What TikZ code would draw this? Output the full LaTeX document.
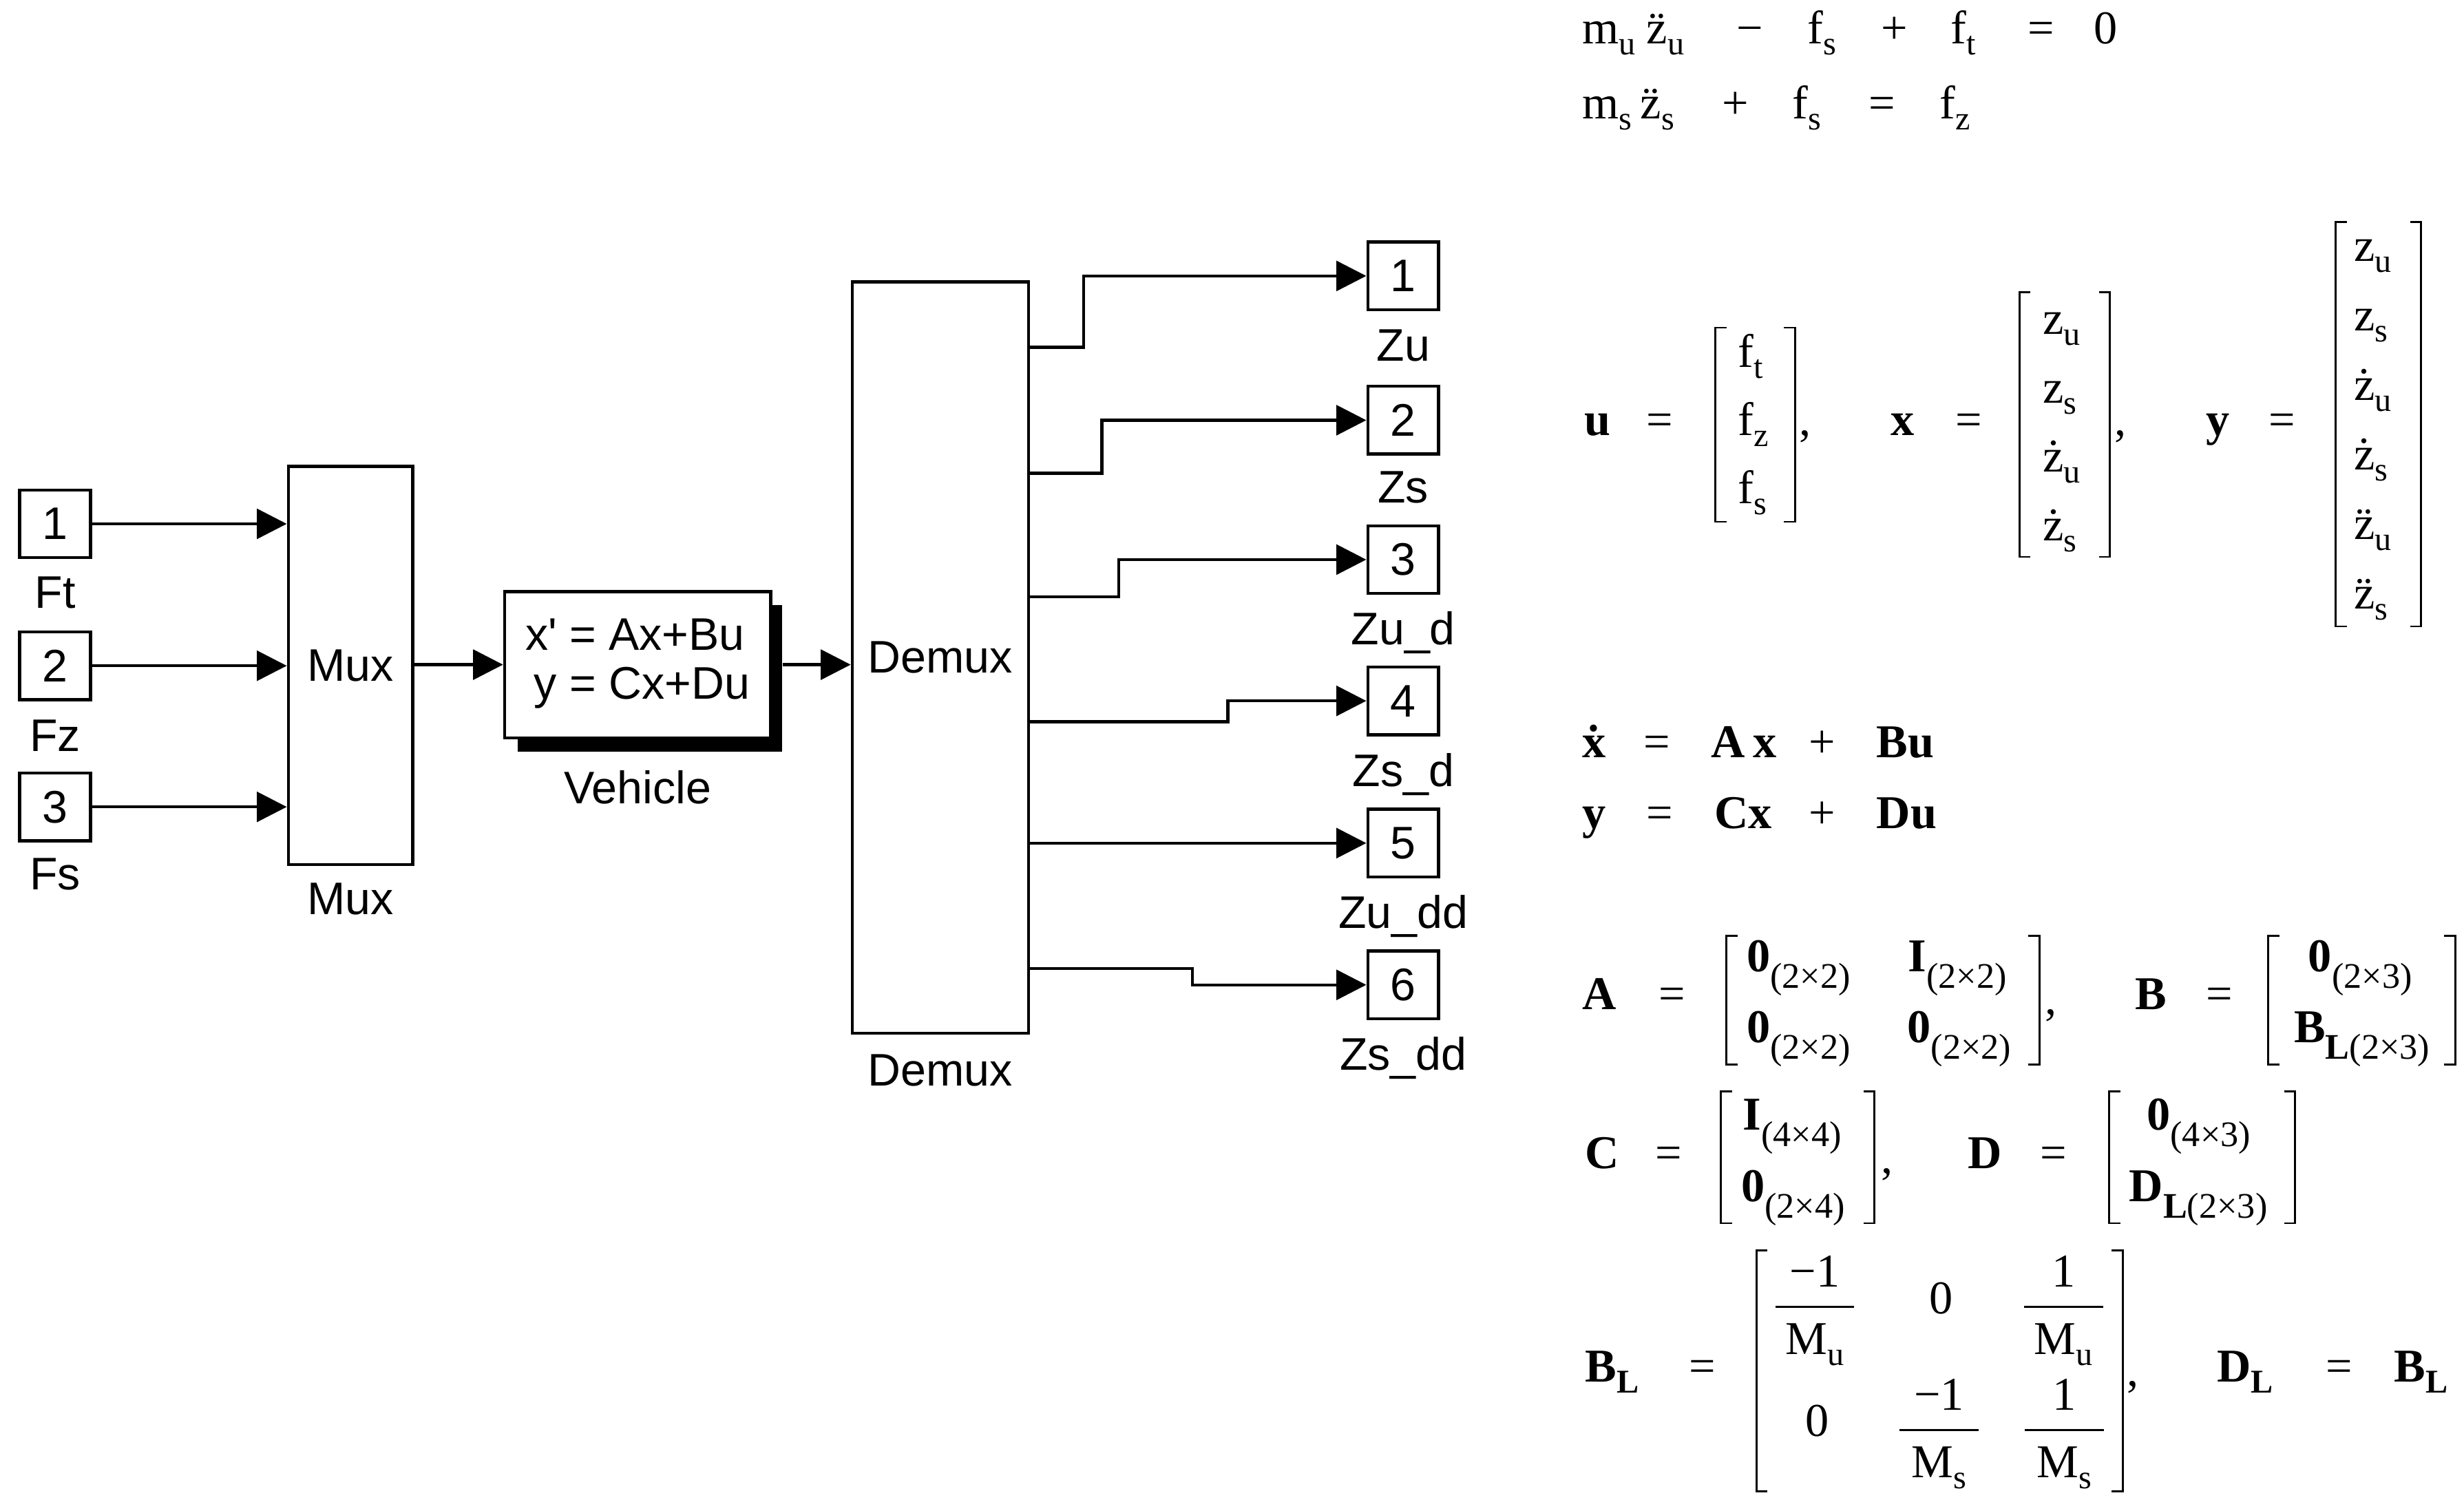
\documentclass[tikz,border=0pt]{standalone}
\usepackage{fontspec}
\setmainfont{Liberation Serif}
\newfontfamily\simfont{Liberation Sans}
\usetikzlibrary{arrows.meta}
\newcommand\simf{\simfont\fontsize{16.5}{17.8}\selectfont}
\newcommand\eqf{\fontsize{17}{20}\selectfont}
\newcommand\sbl[1]{\raisebox{-4pt}{\fontsize{12}{12}\selectfont #1}}
\newcommand\sbd[1]{\raisebox{-6pt}{\fontsize{13}{13}\selectfont #1}}
\newcommand\dt[1]{{\accent"02D9 #1}}
\newcommand\ddt[1]{{\accent"00A8 #1}}
\newcommand\brk[4]{%
  \draw[brkline] (#1+7,#3) -- (#1,#3) -- (#1,#4) -- (#1+7,#4);
  \draw[brkline] (#2-7,#3) -- (#2,#3) -- (#2,#4) -- (#2-7,#4);}
\newcommand\fr[5]{%
  \node[eqc] (#1n) at (#2,#3-12.5) {#4};
  \node[eqc] (#1d) at (#2,#3+30) {#5};
  \draw[brkline] (#2-25,#3) -- (#2+25,#3);}
\begin{document}
\begin{tikzpicture}[x=0.02cm, y=-0.02cm,
  port/.style={draw, line width=1.1pt, minimum width=0.9cm, minimum height=0.86cm, inner sep=0pt, font=\simf},
  blk/.style={draw, line width=1.1pt, fill=white, inner sep=0pt, font=\simf},
  lbl/.style={anchor=base, inner sep=0pt, font=\simf},
  sig/.style={line width=1.1pt, -{Triangle[length=0.38cm, width=0.38cm]}},
  eq/.style={anchor=base west, inner sep=0pt, font=\eqf},
  eqc/.style={anchor=base, inner sep=0pt, font=\eqf},
  brkline/.style={line width=0.7pt}]
\useasboundingbox (0,0) rectangle (1564.2,953.6);

% ---------------- Simulink diagram ----------------
\node[port] (in1) at (35,332.6) {1};
\node[port] (in2) at (35,422.7) {2};
\node[port] (in3) at (35,512.3) {3};
\node[lbl] (lin1) at (35,386.3) {Ft};
\node[lbl] (lin2) at (35,477.2) {Fz};
\node[lbl] (lin3) at (35,565.1) {Fs};

\node[blk, minimum width=1.58cm, minimum height=5.06cm] (mux) at (222.5,422.5) {Mux};
\node[lbl] (lmux) at (222.5,580.7) {Mux};

\node[fill=black, inner sep=0pt, minimum width=3.356cm, minimum height=1.858cm] (vehsh) at (412.7,430.75) {};
\node[blk, minimum width=3.378cm, minimum height=1.856cm] (veh) at (404.75,422)
  {\begin{tabular}{@{}r@{}l@{}}x\textquotesingle & \ = Ax+Bu\\ y & \ = Cx+Du\end{tabular}};
\node[lbl] (lveh) at (404.75,510.4) {Vehicle};

\node[blk, minimum width=2.24cm, minimum height=9.54cm] (demux) at (597,417.5) {Demux};
\node[lbl] (ldemux) at (597,689.4) {Demux};

\node[port] (o1) at (890.8,175.2) {1};
\node[port] (o2) at (890.8,266.8) {2};
\node[port] (o3) at (890.8,355.3) {3};
\node[port] (o4) at (890.8,445) {4};
\node[port] (o5) at (890.8,535.3) {5};
\node[port] (o6) at (890.8,625.3) {6};
\node[lbl] (lo1) at (890.8,229.1) {Zu};
\node[lbl] (lo2) at (890.8,319.2) {Zs};
\node[lbl] (lo3) at (890.8,409.3) {Zu\_d};
\node[lbl] (lo4) at (890.8,499.3) {Zs\_d};
\node[lbl] (lo5) at (890.8,589.4) {Zu\_dd};
\node[lbl] (lo6) at (890.8,679.5) {Zs\_dd};

\draw[sig] (in1) -- (mux.west |- in1);
\draw[sig] (in2) -- (mux.west |- in2);
\draw[sig] (in3) -- (mux.west |- in3);
\draw[sig] (mux.east |- veh) -- (veh);
\draw[sig] (vehsh.east |- veh) -- (demux.west |- veh);

\draw[sig] (demux.east |- 0,220.5) -| (o1 -| 687.8,0) -- (o1);
\draw[sig] (demux.east |- 0,300.4) -| (o2 -| 699.5,0) -- (o2);
\draw[sig] (demux.east |- 0,378.8) -| (o3 -| 710.2,0) -- (o3);
\draw[sig] (demux.east |- 0,458.3) -| (o4 -| 779.5,0) -- (o4);
\draw[sig] (demux.east |- o5) -- (o5);
\draw[sig] (demux.east |- 0,615) -| (o6 -| 757,0) -- (o6);

% ---------------- Equations ----------------
\node[eq] (e1a) at (1004,27.9) {m\sbl{u}};
\node[eq] (e1b) at (1045,27.9) {\ddt{z}\sbl{u}};
\node[eq] (e1c) at (1102,27.9) {−};
\node[eq] (e1d) at (1147,27.9) {f\sbl{s}};
\node[eq] (e1e) at (1194,27.9) {+};
\node[eq] (e1f) at (1238,27.9) {f\sbl{t}};
\node[eq] (e1g) at (1287,27.9) {=};
\node[eq] (e1h) at (1329,27.9) {0};

\node[eq] (e2a) at (1004,75.4) {m\sbl{s}};
\node[eq] (e2b) at (1041,75.4) {\ddt{z}\sbl{s}};
\node[eq] (e2c) at (1093,75.4) {+};
\node[eq] (e2d) at (1137.5,75.4) {f\sbl{s}};
\node[eq] (e2e) at (1186,75.4) {=};
\node[eq] (e2f) at (1231,75.4) {f\sbl{z}};

% u, x, y vectors
\node[eq] (uu) at (1005.5,276.3) {\textbf{u}};
\node[eq] (ueq) at (1045,276.3) {=};
\brk{1089}{1139.5}{208}{331.3}
\node[eq] (u1) at (1103,233) {f\sbl{t}};
\node[eq] (u2) at (1103,276.3) {f\sbl{z}};
\node[eq] (u3) at (1103,319.6) {f\sbl{s}};
\node[eq] (ucm) at (1142,276.3) {,};

\node[eq] (xx) at (1200,276.3) {\textbf{x}};
\node[eq] (xeq) at (1241,276.3) {=};
\brk{1282}{1339.4}{185.6}{353.6}
\node[eq] (x1) at (1296.5,212) {z\sbl{u}};
\node[eq] (x2) at (1296.5,255.7) {z\sbl{s}};
\node[eq] (x3) at (1296.5,299.4) {\dt{z}\sbl{u}};
\node[eq] (x4) at (1296.5,343.1) {\dt{z}\sbl{s}};
\node[eq] (xcm) at (1342,276.3) {,};

\node[eq] (yy) at (1400,276.3) {\textbf{y}};
\node[eq] (yeq) at (1440,276.3) {=};
\brk{1482.8}{1537}{141}{397.7}
\node[eq] (y1) at (1494,166) {z\sbl{u}};
\node[eq] (y2) at (1494,210.1) {z\sbl{s}};
\node[eq] (y3) at (1494,254.2) {\dt{z}\sbl{u}};
\node[eq] (y4) at (1494,298.3) {\dt{z}\sbl{s}};
\node[eq] (y5) at (1494,342.4) {\ddt{z}\sbl{u}};
\node[eq] (y6) at (1494,386.5) {\ddt{z}\sbl{s}};

% state equations
\node[eq] (s1a) at (1004,481) {\textbf{\dt{x}}};
\node[eq] (s1b) at (1043,481) {=};
\node[eq] (s1c) at (1086,481) {\textbf{A\,x}};
\node[eq] (s1d) at (1148,481) {+};
\node[eq] (s1e) at (1191,481) {\textbf{Bu}};
\node[eq] (s2a) at (1004,526) {\textbf{y}};
\node[eq] (s2b) at (1045,526) {=};
\node[eq] (s2c) at (1088,526) {\textbf{Cx}};
\node[eq] (s2d) at (1148,526) {+};
\node[eq] (s2e) at (1191,526) {\textbf{Du}};

% A and B
\node[eq] (aa) at (1004,641) {\textbf{A}};
\node[eq] (aeq) at (1052.5,641) {=};
\brk{1096}{1294.6}{594}{675.8}
\node[eq] (a11) at (1108.5,616.7) {\textbf{0}\sbd{(2×2)}};
\node[eq] (a12) at (1211,616.7) {\textbf{I}\sbd{(2×2)}};
\node[eq] (a21) at (1108.5,662) {\textbf{0}\sbd{(2×2)}};
\node[eq] (a22) at (1210.5,662) {\textbf{0}\sbd{(2×2)}};
\node[eq] (acm) at (1298,644) {,};

\node[eq] (bb) at (1355,641) {\textbf{B}};
\node[eq] (beq) at (1400,641) {=};
\brk{1440}{1558.7}{594}{676}
\node[eq] (b1) at (1465,616.7) {\textbf{0}\sbd{(2×3)}};
\node[eq] (b2) at (1456,662) {\textbf{B}\sbd{\textbf{L}(2×3)}};

% C and D
\node[eq] (cc) at (1006,741.8) {\textbf{C}};
\node[eq] (ceq) at (1050.6,741.8) {=};
\brk{1092.5}{1190}{693}{776.6}
\node[eq] (c1) at (1106,717.5) {\textbf{I}\sbd{(4×4)}};
\node[eq] (c2) at (1105,762.7) {\textbf{0}\sbd{(2×4)}};
\node[eq] (ccm) at (1194,745) {,};

\node[eq] (dd) at (1249,741.8) {\textbf{D}};
\node[eq] (deq) at (1295,741.8) {=};
\brk{1339}{1457}{693}{776.6}
\node[eq] (d1) at (1362.5,717.5) {\textbf{0}\sbd{(4×3)}};
\node[eq] (d2) at (1351.3,762.7) {\textbf{D}\sbd{\textbf{L}(2×3)}};

% B_L
\node[eq] (bl) at (1006,877.3) {\textbf{B}\sbl{\textbf{L}}};
\node[eq] (bleq) at (1072,877.3) {=};
\brk{1115}{1347.6}{794}{946.8}
\fr{f1}{1152}{829.7}{−1}{M\sbl{u}}
\node[eqc] (z1) at (1232.5,834) {0};
\fr{f3}{1310}{829.7}{1}{M\sbl{u}}
\node[eqc] (z2) at (1153.5,912) {0};
\fr{f2}{1231}{908}{−1}{M\sbl{s}}
\fr{f4}{1310.5}{908}{1}{M\sbl{s}}
\node[eq] (blcm) at (1350,880) {,};
\node[eq] (dl) at (1407,877.3) {\textbf{D}\sbl{\textbf{L}}};
\node[eq] (dleq) at (1476,877.3) {=};
\node[eq] (blr) at (1519.5,877.3) {\textbf{B}\sbl{\textbf{L}}};
\end{tikzpicture}
\end{document}
